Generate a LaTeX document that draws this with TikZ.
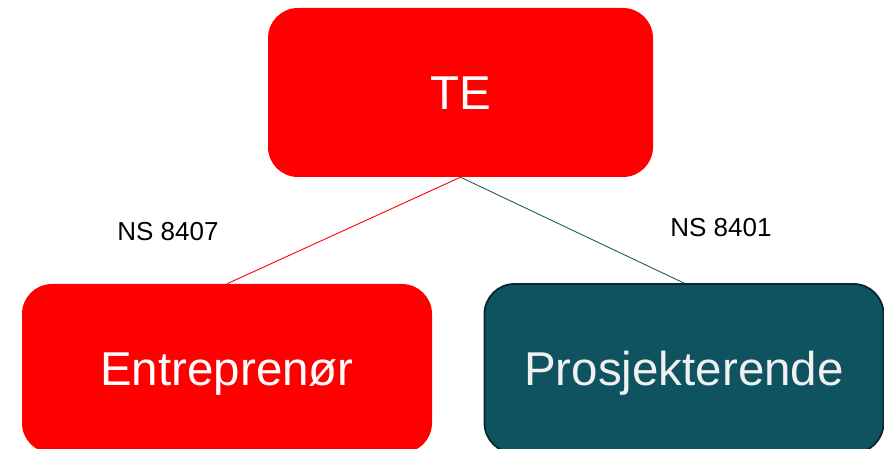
\documentclass[tikz,border=0pt]{standalone}
\usepackage{fontspec}
\setmainfont{Liberation Sans}
\usetikzlibrary{positioning}
\definecolor{tered}{HTML}{FF0000}
\definecolor{petrol}{HTML}{0F5360}
\definecolor{petroldark}{HTML}{06272C}
\definecolor{petrolline}{HTML}{1D5E66}
\tikzset{
	rolebox/.style={
		rectangle,
		rounded corners=30pt,
		inner sep=0pt,
		minimum height=169pt,
		text=white,
		text height=34pt,
		text depth=0pt,
		font=\fontsize{47.5}{56}\selectfont
	},
	redbox/.style={
		rolebox,
		fill=tered
	},
	petrolbox/.style={
		rolebox,
		fill=petrol,
		draw=petroldark,
		line width=1.8pt,
		text=white!94!black
	},
	contract/.style={
		font=\fontsize{26}{30}\selectfont,
		inner sep=0pt
	}
}

\begin{document}
\begin{tikzpicture}[x=1pt,y=-1pt]
	\useasboundingbox (0,0) rectangle (884,449);
	\node[redbox, minimum width=385pt] (te) at (460.5,92.5) {TE};
	\node[redbox, minimum width=410pt] (ent) at (227,368.5) {Entreprenør};
	\node[petrolbox, minimum width=399pt] (pro) at (684,368.5) {Prosjekterende};
	% kontraktslinjer
	\draw[tered, line width=0.9pt] (te.south) -- (ent.north);
	\draw[petrolline, line width=0.9pt] (te.south) -- (pro.north);
	\node[contract] (ns8407) at (168,232) {NS 8407};
	\node[contract] (ns8401) at (721,228) {NS 8401};
\end{tikzpicture}
\end{document}
